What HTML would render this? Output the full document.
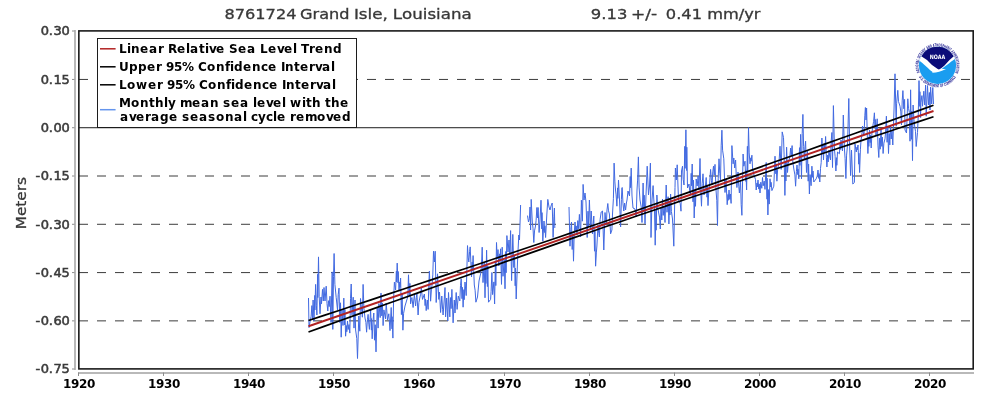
<!DOCTYPE html>
<html lang="en"><head><meta charset="utf-8"><title>8761724 Grand Isle, Louisiana</title>
<style>
html,body{margin:0;padding:0;background:#fff;}
body{width:1000px;height:400px;overflow:hidden;}
svg{display:block;}
text{font-family:"DejaVu Sans","Liberation Sans",sans-serif;font-kerning:none;}
</style></head><body>
<svg width="1000" height="400" viewBox="0 0 1000 400">
<rect x="0" y="0" width="1000" height="400" fill="#ffffff"/>
<g>
<text transform="translate(224.52,19) scale(1.0989,1)" font-size="14.7" fill="#383838" stroke="#383838" stroke-width="0.32">8761724</text>
<text transform="translate(300.06,19) scale(1.0985,1)" font-size="14.7" fill="#383838" stroke="#383838" stroke-width="0.32">Grand</text>
<text transform="translate(353.92,19) scale(1.1406,1)" font-size="14.7" fill="#383838" stroke="#383838" stroke-width="0.32">Isle,</text>
<text transform="translate(392.84,19) scale(1.1325,1)" font-size="14.7" fill="#383838" stroke="#383838" stroke-width="0.32">Louisiana</text>
<text transform="translate(590.80,19) scale(1.1179,1)" font-size="14.7" fill="#383838" stroke="#383838" stroke-width="0.32">9.13</text>
<text transform="translate(630.90,19) scale(1.1626,1)" font-size="14.7" fill="#383838" stroke="#383838" stroke-width="0.32">+/-</text>
<text transform="translate(665.82,19) scale(1.1060,1)" font-size="14.7" fill="#383838" stroke="#383838" stroke-width="0.32">0.41</text>
<text transform="translate(707.26,19) scale(1.1023,1)" font-size="14.7" fill="#383838" stroke="#383838" stroke-width="0.32">mm/yr</text>
</g>
<g stroke="#b9b9b9" stroke-width="2" fill="none">
<line x1="75" y1="30.0" x2="75" y2="370.0"/>
<line x1="78.0" y1="373" x2="974.0" y2="373"/>
</g>
<g stroke="#8c8c8c" stroke-width="1" fill="none">
<line x1="72" y1="31.0" x2="74.5" y2="31.0"/>
<line x1="72" y1="79.44" x2="74.5" y2="79.44"/>
<line x1="72" y1="127.72" x2="74.5" y2="127.72"/>
<line x1="72" y1="176.01" x2="74.5" y2="176.01"/>
<line x1="72" y1="224.29" x2="74.5" y2="224.29"/>
<line x1="72" y1="272.58" x2="74.5" y2="272.58"/>
<line x1="72" y1="320.86" x2="74.5" y2="320.86"/>
<line x1="72" y1="369.0" x2="74.5" y2="369.0"/>
<line x1="78.5" y1="372.5" x2="78.5" y2="376"/>
<line x1="163.5" y1="372.5" x2="163.5" y2="376"/>
<line x1="248.5" y1="372.5" x2="248.5" y2="376"/>
<line x1="333.5" y1="372.5" x2="333.5" y2="376"/>
<line x1="418.5" y1="372.5" x2="418.5" y2="376"/>
<line x1="504.5" y1="372.5" x2="504.5" y2="376"/>
<line x1="589.5" y1="372.5" x2="589.5" y2="376"/>
<line x1="674.5" y1="372.5" x2="674.5" y2="376"/>
<line x1="759.5" y1="372.5" x2="759.5" y2="376"/>
<line x1="844.5" y1="372.5" x2="844.5" y2="376"/>
<line x1="929.5" y1="372.5" x2="929.5" y2="376"/>
</g>
<g stroke="#3c3c3c" stroke-width="1" stroke-dasharray="9 9" fill="none">
<line x1="79.0" y1="79.44" x2="973.0" y2="79.44"/>
<line x1="79.0" y1="176.01" x2="973.0" y2="176.01"/>
<line x1="79.0" y1="224.29" x2="973.0" y2="224.29"/>
<line x1="79.0" y1="272.58" x2="973.0" y2="272.58"/>
<line x1="79.0" y1="320.86" x2="973.0" y2="320.86"/>
</g>
<line x1="79.0" y1="127.72" x2="973.0" y2="127.72" stroke="#1c1c1c" stroke-width="1"/>
<g transform="translate(937.5,65.3)">
<rect x="-21.6" y="-23.3" width="44.6" height="45.3" fill="#fff"/>
<defs><path id="ringTop" d="M -17.52,7.08 A 18.9 18.9 0 1 1 17.52,7.08"/><path id="ringBot" d="M -18.66,11.66 A 22.0 22.0 0 0 0 18.66,11.66"/></defs>
<text font-size="4.2" font-weight="bold" fill="#2d2d98" textLength="73.9" lengthAdjust="spacingAndGlyphs"><textPath href="#ringTop" startOffset="0">NATIONAL OCEANIC AND ATMOSPHERIC ADMINISTRATION</textPath></text>
<text font-size="4.2" font-weight="bold" fill="#2d2d98" textLength="44.5" lengthAdjust="spacingAndGlyphs"><textPath href="#ringBot" startOffset="0">U.S. DEPARTMENT OF COMMERCE</textPath></text>
<circle cx="0" cy="0" r="18.6" fill="#1a9df0"/>
<path d="M -18.05,-4.50 C -16.5,-3.6 -14.25,-1.55 -11,1.5 C -9,3.4 -7.5,4.8 -6.3,5.6 C -5.0,6.5 -4.6,7.0 -5.4,7.45 C -1.5,7.6 4,6.0 8.5,3.6 C 6.8,3.9 5.4,3.9 4.4,3.5 C 7.5,1.2 10,-0.8 12,-2.2 C 14.5,-4.2 16.5,-5.6 17.53,-6.21 A 18.6 18.6 0 0 0 -18.05,-4.50 Z" fill="#fff"/>
<path d="M -16.19,-9.16 A 18.6 18.6 0 0 1 16.27,-9.02 L 12,-5.3 L 7,0.1 Q 3.2,3.7 1.4,4.1 Q -0.1,3.7 -0.5,3.2 L -5.5,-0.3 L -10.5,-5.3 Z" fill="#0b0b78"/>
<text x="0" y="-6.4" font-size="6.0" font-weight="bold" fill="#fff" text-anchor="middle" textLength="15.6" lengthAdjust="spacingAndGlyphs">NOAA</text>
</g>
<polyline points="308.5,298.0 309.0,327.5 310.2,321.0 311.1,316.4 311.9,305.6 312.5,320.0 313.1,300.0 314.0,321.0 314.8,295.4 314.9,310.0 315.6,284.4 316.4,305.8 316.9,315.0 317.6,274.3 317.8,297.6 318.5,256.9 319.2,296.7 320.0,313.8 321.0,297.0 321.5,303.8 322.5,289.4 323.3,301.0 324.0,287.5 325.0,301.0 326.2,286.2 327.0,303.6 327.8,311.0 328.5,300.7 329.2,306.6 330.0,296.2 331.0,322.5 332.2,271.9 332.8,329.4 333.5,276.3 334.1,253.5 334.9,284.3 336.2,297.5 337.5,310.0 338.2,294.7 339.0,288.1 339.8,322.5 340.5,302.8 341.2,337.2 342.0,309.8 343.0,325.5 343.8,298.1 344.5,324.8 344.9,309.5 345.6,336.2 346.4,325.6 346.8,331.7 347.5,321.0 348.2,329.5 349.0,324.6 349.8,333.1 350.5,298.7 351.2,284.0 352.0,314.9 353.2,297.2 354.0,328.1 355.0,300.0 355.6,330.0 356.8,338.6 357.5,358.5 358.8,316.0 359.8,331.2 360.5,298.5 362.4,317.2 363.1,284.4 363.9,307.9 365.0,318.0 365.9,322.3 366.6,332.2 367.4,319.8 368.1,314.4 368.9,324.9 369.4,329.4 370.6,310.0 371.4,330.1 371.5,318.6 372.2,338.8 373.0,320.7 373.8,313.0 374.5,340.2 375.2,324.7 376.0,351.9 377.2,307.5 378.1,328.1 378.9,303.6 380.2,317.6 381.0,293.1 381.8,315.9 382.4,302.9 383.1,325.6 383.9,309.9 385.5,318.9 386.2,303.1 387.5,320.0 388.8,313.8 390.0,330.6 391.2,307.5 392.0,328.9 392.1,316.7 392.9,338.1 393.6,299.0 394.4,282.2 395.6,290.0 396.4,271.2 396.5,281.9 397.2,263.1 398.0,282.8 398.2,271.5 399.0,291.2 399.8,282.0 399.9,287.3 400.6,278.1 401.4,314.6 402.1,293.7 402.9,330.2 403.6,313.3 405.0,306.0 407.8,296.6 408.5,274.8 409.2,295.1 409.9,283.4 410.6,303.8 411.4,299.4 411.9,297.5 413.1,307.5 413.9,298.8 414.4,295.0 415.6,306.0 416.4,297.4 416.9,293.8 418.1,315.0 418.9,302.4 420.0,297.0 420.6,294.3 421.3,288.0 422.5,299.4 424.4,294.0 425.1,305.6 425.5,299.0 426.2,310.6 427.3,300.0 428.1,309.4 428.9,282.5 429.4,271.0 430.6,301.2 431.4,289.9 432.0,285.0 432.8,274.9 433.5,251.2 434.4,262.0 435.2,251.2 436.2,302.5 437.5,273.8 438.8,299.4 439.5,292.0 440.6,312.5 441.8,296.0 442.6,309.3 443.1,315.0 444.2,300.0 445.0,287.5 445.6,316.9 446.7,298.0 447.8,321.0 448.5,292.5 449.8,316.9 450.5,297.6 451.1,308.6 451.9,289.4 453.1,322.8 454.3,300.0 455.0,313.0 456.2,292.5 457.1,309.4 458.3,296.0 459.8,301.0 460.5,285.4 461.2,278.8 462.0,298.7 462.4,287.3 463.1,307.2 463.9,289.6 464.2,299.7 465.0,282.0 466.2,295.6 467.5,245.6 468.2,257.1 468.8,262.0 469.6,251.4 470.2,246.9 471.5,277.0 472.2,262.0 472.4,270.6 473.1,255.6 474.3,285.0 475.1,290.2 475.9,302.2 477.5,297.0 479.0,281.0 480.6,273.8 481.5,265.8 482.2,247.2 483.0,282.6 484.2,262.4 485.0,297.8 485.8,264.5 485.9,283.5 486.6,250.2 487.4,286.6 487.8,265.9 488.5,302.2 490.6,299.4 491.1,291.3 491.9,272.5 492.6,294.6 493.9,281.9 494.6,304.0 495.4,260.9 495.8,285.6 496.5,242.5 497.2,258.9 498.0,249.6 498.8,266.0 499.5,253.9 499.9,260.8 500.6,248.8 501.5,284.4 502.2,247.2 503.0,276.3 504.2,259.7 505.0,288.8 505.8,251.5 506.1,272.8 506.9,235.6 508.0,252.0 509.0,240.0 509.8,255.0 510.6,230.6 511.6,280.6 512.8,234.4 513.8,267.5 514.5,255.0 515.2,285.8 515.5,268.2 516.2,299.0 517.5,262.0 518.8,235.0 519.5,240.0 520.6,205.0" fill="none" stroke="#4169e1" stroke-width="1.0" stroke-linejoin="round"/>
<polyline points="527.5,215.6 528.5,222.0 529.4,218.8 530.0,207.0 530.6,230.0 531.2,199.4 532.3,222.0 533.0,228.2 533.8,242.5 534.5,230.9 535.5,226.0 536.1,220.4 536.9,207.5 537.5,218.0 538.1,207.5 539.1,232.5 540.0,220.0 541.0,200.2 541.8,228.9 542.0,212.6 542.8,241.2 544.0,221.0 544.8,232.6 544.9,225.9 545.6,237.5 546.8,215.0 547.8,199.4 549.0,207.0 550.0,210.0 551.0,206.0 552.2,203.0 553.1,237.5 553.9,216.8 554.4,208.0 554.8,228.0" fill="none" stroke="#4169e1" stroke-width="1.0" stroke-linejoin="round"/>
<polyline points="569.0,207.0 570.0,246.2 570.8,229.3 571.5,222.0 572.2,249.5 572.8,233.8 573.5,261.2 574.2,233.8 575.0,222.0 575.8,231.1 576.2,225.9 577.0,235.0 577.8,220.6 578.6,228.8 579.4,214.4 580.6,237.0 581.4,200.2 582.4,221.2 583.1,184.4 584.0,200.0 585.0,193.0 586.0,202.0 587.2,237.5 588.0,211.2 588.6,226.2 589.4,200.0 590.5,230.0 591.2,211.0 592.5,234.0 593.8,216.0 594.5,251.2 594.9,231.1 595.6,266.2 596.4,252.1 596.9,246.0 598.0,225.0 598.8,233.4 599.4,237.0 600.1,219.5 601.2,212.0 602.5,211.0 603.8,250.0 605.0,212.5 605.8,221.2 606.3,225.0 607.0,209.9 607.8,203.5 608.5,210.8 609.4,214.0 610.6,233.8 611.9,230.0 612.5,214.0 613.4,198.7 614.1,163.1 614.9,181.9 615.5,190.0 616.1,194.9 616.9,206.2 617.6,187.9 617.8,198.4 618.5,180.0 619.5,200.0 620.6,227.0 621.4,199.7 621.9,188.0 622.2,187.5 623.0,203.9 623.8,211.0 624.6,203.0 625.6,210.0 626.4,203.0 627.0,200.0 628.0,191.0 629.5,196.0 630.2,176.5 630.5,187.6 631.2,168.1 632.0,196.0 633.0,208.0 635.0,209.0 636.2,217.0 637.0,190.0 637.6,180.1 638.4,156.9 639.1,187.1 640.0,200.0 641.2,206.8 642.0,222.5 643.1,183.0 643.9,211.5 644.2,195.2 645.0,223.8 646.0,195.0 647.2,166.2 648.5,195.0 649.5,186.0 650.4,163.1 651.0,237.5 652.0,200.0 653.1,185.6 653.5,195.0 654.5,210.1 655.2,245.2 656.0,210.1 656.1,230.2 656.9,195.0 657.6,206.9 658.5,212.0 659.5,217.1 660.3,229.0 661.0,208.0 661.8,220.0 662.5,199.0 663.2,215.4 664.2,206.1 665.0,222.5 666.2,185.0 667.0,212.3 668.1,196.7 668.9,224.0 669.6,203.0 669.9,215.0 670.6,194.0 671.4,211.5 672.5,219.0 673.8,246.2 675.0,187.5 675.4,168.0 676.3,180.0 677.2,164.8 678.5,200.0 680.2,203.4 681.0,211.2 681.5,171.0 682.5,166.2 683.2,179.4 684.0,185.0 684.8,146.3 685.1,168.4 685.9,129.8 686.6,170.5 686.8,147.2 687.5,188.0 689.0,184.0 689.8,191.7 690.5,195.0 691.2,173.3 691.5,185.7 692.2,164.0 693.0,201.8 693.5,180.2 694.2,218.0 695.0,190.7 695.5,206.3 696.2,179.0 697.2,186.0 698.1,176.0 699.0,190.0 700.0,158.5 700.8,191.9 701.5,206.2 702.2,183.5 703.0,173.8 704.0,195.0 705.0,191.0 706.2,177.5 707.0,197.2 707.2,185.9 708.0,205.6 708.8,191.2 709.5,185.0 710.6,169.4 711.4,180.3 712.0,185.0 712.8,171.9 713.5,166.2 714.2,175.0 715.0,164.4 716.0,190.0 716.8,200.7 717.5,225.5 718.2,178.8 719.0,158.8 719.8,173.6 720.5,180.0 721.2,145.2 721.9,130.2 722.6,150.2 723.8,158.8 725.0,192.5 726.0,180.0 727.2,204.7 728.0,194.4 728.2,200.3 729.0,190.0 729.8,199.4 730.4,194.0 731.1,203.4 731.9,145.6 733.1,163.8 733.8,158.0 734.7,168.0 735.6,160.0 736.4,179.2 736.9,187.5 738.0,172.0 738.8,186.7 739.4,193.0 740.5,180.0 741.2,204.7 741.9,215.3 743.1,154.0 743.8,166.2 745.0,161.2 745.8,181.4 745.9,169.9 746.6,190.0 747.4,146.3 747.7,171.3 748.5,127.6 749.2,152.9 750.0,163.8 750.8,157.8 751.1,161.2 751.9,155.2 752.6,169.1 754.0,175.0 755.5,179.5 756.2,190.0 757.0,183.0 757.2,187.0 758.0,180.0 758.8,189.1 759.2,183.9 760.0,193.0 760.8,182.2 761.8,188.3 762.5,177.5 763.2,185.8 764.2,181.1 765.0,189.4 766.2,162.5 767.0,199.2 767.1,178.2 767.9,215.0 768.6,189.6 769.2,204.1 770.0,178.8 770.8,187.0 771.1,182.3 771.9,190.6 773.8,186.2 775.0,156.2 775.8,173.8 776.1,163.8 776.9,181.2 777.6,169.9 778.5,165.0 779.2,159.4 780.0,146.2 781.2,169.4 782.2,131.9 783.5,137.5 784.1,154.9 784.9,195.4 785.6,161.7 785.9,181.0 786.6,147.2 787.5,172.5 788.2,163.8 789.0,160.0 789.9,156.4 790.6,148.0 791.3,156.0 792.1,145.6 792.9,162.7 794.0,170.0 794.9,174.9 795.6,186.2 796.4,171.4 797.0,165.0 797.8,174.6 798.0,169.1 798.8,178.8 799.5,147.7 799.9,165.4 800.6,134.4 801.5,178.8 802.2,133.7 802.9,114.4 803.6,146.3 804.3,160.0 805.0,146.9 805.6,141.2 806.5,172.5 807.5,151.2 808.2,181.2 808.6,164.1 809.4,194.0 810.1,174.6 811.1,185.7 811.9,166.2 812.6,177.3 813.0,171.0 813.8,182.0 816.2,178.8 817.2,176.1 818.0,170.0 818.8,178.4 819.0,173.6 819.8,182.0 820.5,168.3 821.2,162.5 821.9,138.0 822.6,153.4 822.8,144.6 823.5,160.0 824.2,143.6 824.9,152.9 825.6,136.5 826.4,157.8 826.9,167.0 827.6,155.1 828.2,161.9 829.0,150.0 829.8,157.0 830.5,160.0 831.2,140.8 831.9,132.5 832.5,167.5 833.4,105.6 834.5,150.0 835.1,156.3 835.9,171.0 836.6,157.7 836.8,165.3 837.5,152.0 839.4,153.8 840.1,144.1 840.2,149.6 841.0,140.0 841.8,147.7 842.5,151.0 843.3,115.0 844.5,150.0 845.1,158.6 845.9,178.5 846.6,155.1 847.5,145.0 848.8,98.5 849.7,148.0 850.6,175.6 851.5,150.0 852.8,184.0 854.4,182.5 855.0,143.8 855.8,149.5 856.3,152.0 857.0,147.1 857.2,149.9 858.0,145.0 858.8,164.2 858.9,153.2 859.6,172.5 860.4,149.8 861.0,140.0 861.8,135.8 862.5,126.0 863.2,132.3 864.0,135.0 864.8,115.8 865.4,107.5 866.0,120.0 866.6,108.0 867.4,139.8 867.9,153.5 868.6,137.1 868.8,146.4 869.5,130.0 870.2,142.6 870.5,135.4 871.2,148.0 872.0,131.9 873.0,125.0 873.6,121.3 874.4,112.8 875.1,128.3 875.2,119.4 876.0,135.0 877.2,118.8 878.0,145.9 878.8,157.5 879.5,138.2 880.2,149.2 881.0,130.0 881.8,146.4 882.4,137.1 883.1,153.5 883.9,143.2 885.0,138.8 885.6,132.0 886.4,116.2 887.1,142.3 887.8,127.4 888.5,153.5 889.2,133.6 889.8,144.9 890.5,125.0 891.2,139.0 892.0,131.0 892.8,145.0 894.0,110.0 895.0,73.8 896.2,126.2 896.6,103.8 897.8,90.3 898.5,101.5 900.0,106.2 900.8,111.9 901.5,125.0 902.2,100.9 902.9,90.6 903.8,108.8 904.6,99.4 905.0,130.0 906.5,133.0 907.8,98.8 908.5,108.4 909.4,112.5 910.0,141.2 910.6,89.8 911.4,139.3 911.8,111.0 912.5,160.6 913.1,105.0 913.9,119.0 914.5,125.0 915.5,131.4 916.2,146.5 917.5,132.5 918.2,116.9 919.0,80.6 919.8,106.4 919.9,91.7 920.6,117.5 920.9,102.5 921.9,95.6 922.5,106.2 923.8,91.2 924.7,105.0 925.6,85.0 926.2,116.2 927.5,85.6 928.5,105.0 929.4,92.5 930.0,110.0 930.6,87.0 931.7,104.0 932.8,87.5 933.5,104.0" fill="none" stroke="#4169e1" stroke-width="1.0" stroke-linejoin="round"/>
<polyline points="308.5,320.55 324.1,315.38 339.8,310.21 355.4,305.04 371.0,299.87 386.6,294.68 402.2,289.50 417.9,284.31 433.5,279.11 449.1,273.91 464.8,268.70 480.4,263.47 496.0,258.24 511.6,253.00 527.2,247.74 542.9,242.47 558.5,237.18 574.1,231.87 589.8,226.54 605.4,221.20 621.0,215.82 636.6,210.43 652.2,205.02 667.9,199.58 683.5,194.13 699.1,188.66 714.8,183.17 730.4,177.66 746.0,172.14 761.6,166.61 777.2,161.07 792.9,155.52 808.5,149.96 824.1,144.40 839.8,138.82 855.4,133.25 871.0,127.67 886.6,122.08 902.2,116.49 917.9,110.90 933.5,105.30" fill="none" stroke="#000" stroke-width="1.7"/>
<polyline points="308.5,331.95 324.1,326.35 339.8,320.76 355.4,315.17 371.0,309.58 386.6,304.00 402.2,298.43 417.9,292.85 433.5,287.29 449.1,281.73 464.8,276.18 480.4,270.64 496.0,265.11 511.6,259.59 527.2,254.08 542.9,248.59 558.5,243.12 574.1,237.67 589.8,232.23 605.4,226.82 621.0,221.43 636.6,216.05 652.2,210.71 667.9,205.38 683.5,200.07 699.1,194.78 714.8,189.51 730.4,184.25 746.0,179.01 761.6,173.78 777.2,168.55 792.9,163.34 808.5,158.14 824.1,152.94 839.8,147.75 855.4,142.57 871.0,137.38 886.6,132.21 902.2,127.04 917.9,121.87 933.5,116.70" fill="none" stroke="#000" stroke-width="1.7"/>
<line x1="308.5" y1="326.25" x2="933.5" y2="111.0" stroke="#b22222" stroke-width="1.9"/>
<rect x="78.85" y="30.9" width="894.35" height="338.0" fill="none" stroke="#1a1a1a" stroke-width="1.6"/>
<rect x="97.5" y="38.5" width="259" height="89" fill="#fff" stroke="#1c1c1c" stroke-width="1"/>
<g stroke-width="1.5" fill="none">
<line x1="100" y1="48.8" x2="115.6" y2="48.8" stroke="#b22222"/>
<line x1="100" y1="66.8" x2="115.6" y2="66.8" stroke="#000"/>
<line x1="100" y1="84.8" x2="115.6" y2="84.8" stroke="#000"/>
<line x1="100" y1="109.7" x2="115.6" y2="109.7" stroke="#6495ed"/>
</g>
<g>
<text x="119.1 127.1 131.1 140.1 149.1 158.1 164.1 168.1 177.1 186.1 190.1 199.1 205.1 209.1 216.1 225.1 229.1 238.1 247.1 256.1 260.1 268.1 277.1 284.1 293.1 297.1 301.1 309.1 315.1 324.1 333.1" y="52.6" font-size="12" font-weight="bold" fill="#000" xml:space="preserve">Linear Relative Sea Level Trend</text>
<text x="119.1 129.1 138.1 147.1 156.1 162.1 166.1 174.1 182.1 194.1 198.1 207.1 216.1 225.1 230.1 234.1 243.1 252.1 261.1 268.1 277.1 281.1 285.1 294.1 300.1 309.1 315.1 322.1 331.1" y="70.6" font-size="12" font-weight="bold" fill="#000" xml:space="preserve">Upper 95% Confidence Interval</text>
<text x="119.1 127.1 136.1 148.1 157.1 163.1 167.1 175.1 183.1 195.1 199.1 208.1 217.1 226.1 231.1 235.1 244.1 253.1 262.1 269.1 278.1 282.1 286.1 295.1 301.1 310.1 316.1 323.1 332.1" y="88.6" font-size="12" font-weight="bold" fill="#000" xml:space="preserve">Lower 95% Confidence Interval</text>
<text x="119.1 131.1 140.1 149.1 155.1 164.1 168.1 176.1 180.1 192.1 201.1 210.1 219.1 223.1 231.1 240.1 249.1 253.1 257.1 266.1 273.1 282.1 286.1 290.1 302.1 306.1 312.1 321.1 325.1 331.1 340.1" y="106.6" font-size="12" font-weight="bold" fill="#000" xml:space="preserve">Monthly mean sea level with the</text>
<text x="120.1 129.1 136.1 145.1 151.1 160.1 169.1 178.1 182.1 190.1 199.1 208.1 216.1 225.1 234.1 243.1 247.1 251.1 258.1 266.1 273.1 277.1 286.1 290.1 296.1 305.1 317.1 326.1 333.1 342.1" y="120.6" font-size="12" font-weight="bold" fill="#000" xml:space="preserve">average seasonal cycle removed</text>
</g>
<g>
<text x="40.7 48.7 53.4 61.4" y="35.4" font-size="13" fill="#3a3a3a" stroke="#3a3a3a" stroke-width="0.55" xml:space="preserve">0.30</text>
<text x="40.7 48.7 53.4 61.4" y="83.8" font-size="13" fill="#3a3a3a" stroke="#3a3a3a" stroke-width="0.55" xml:space="preserve">0.15</text>
<text x="40.7 48.7 53.4 61.4" y="132.1" font-size="13" fill="#3a3a3a" stroke="#3a3a3a" stroke-width="0.55" xml:space="preserve">0.00</text>
<text x="35.5 40.7 48.7 53.4 61.4" y="180.4" font-size="13" fill="#3a3a3a" stroke="#3a3a3a" stroke-width="0.55" xml:space="preserve">-0.15</text>
<text x="35.5 40.7 48.7 53.4 61.4" y="228.7" font-size="13" fill="#3a3a3a" stroke="#3a3a3a" stroke-width="0.55" xml:space="preserve">-0.30</text>
<text x="35.5 40.7 48.7 53.4 61.4" y="277.0" font-size="13" fill="#3a3a3a" stroke="#3a3a3a" stroke-width="0.55" xml:space="preserve">-0.45</text>
<text x="35.5 40.7 48.7 53.4 61.4" y="325.3" font-size="13" fill="#3a3a3a" stroke="#3a3a3a" stroke-width="0.55" xml:space="preserve">-0.60</text>
<text x="35.5 40.7 48.7 53.4 61.4" y="373.4" font-size="13" fill="#3a3a3a" stroke="#3a3a3a" stroke-width="0.55" xml:space="preserve">-0.75</text>
</g>
<g>
<text x="63 71 79 87" y="388" font-size="12" font-weight="bold" fill="#000" xml:space="preserve">1920</text>
<text x="148 156 164 172" y="388" font-size="12" font-weight="bold" fill="#000" xml:space="preserve">1930</text>
<text x="233 241 249 257" y="388" font-size="12" font-weight="bold" fill="#000" xml:space="preserve">1940</text>
<text x="318 326 334 342" y="388" font-size="12" font-weight="bold" fill="#000" xml:space="preserve">1950</text>
<text x="403 411 419 427" y="388" font-size="12" font-weight="bold" fill="#000" xml:space="preserve">1960</text>
<text x="489 497 505 513" y="388" font-size="12" font-weight="bold" fill="#000" xml:space="preserve">1970</text>
<text x="574 582 590 598" y="388" font-size="12" font-weight="bold" fill="#000" xml:space="preserve">1980</text>
<text x="659 667 675 683" y="388" font-size="12" font-weight="bold" fill="#000" xml:space="preserve">1990</text>
<text x="744 752 760 768" y="388" font-size="12" font-weight="bold" fill="#000" xml:space="preserve">2000</text>
<text x="829 837 845 853" y="388" font-size="12" font-weight="bold" fill="#000" xml:space="preserve">2010</text>
<text x="914 922 930 938" y="388" font-size="12" font-weight="bold" fill="#000" xml:space="preserve">2020</text>
</g>
<text transform="translate(26,229.3) rotate(-90) scale(1.043,1)" font-size="14.7" fill="#383838" stroke="#383838" stroke-width="0.3">Meters</text>
</svg>
</body></html>
